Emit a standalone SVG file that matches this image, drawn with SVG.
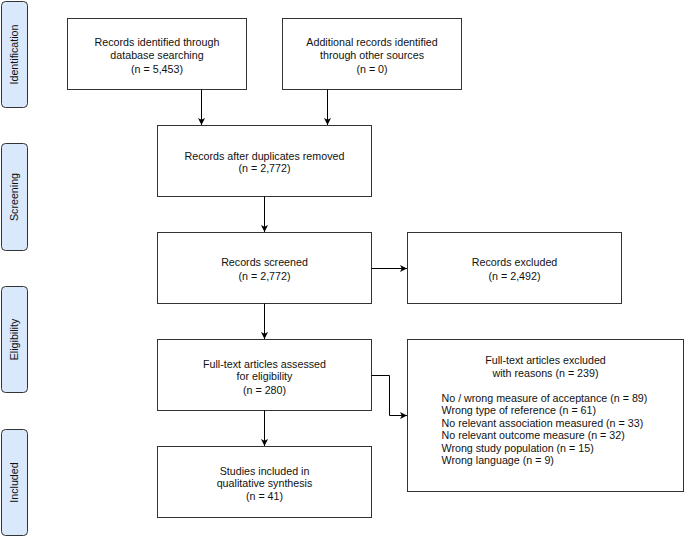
<svg xmlns="http://www.w3.org/2000/svg" width="685" height="537" viewBox="0 0 685 537">
<defs>
<marker id="ah" markerWidth="8" markerHeight="8" refX="7" refY="4" orient="auto" markerUnits="userSpaceOnUse">
<path d="M0,0.5 L7,4 L0,7.5 L1.8,4 Z" fill="#000"/>
</marker>
<style>
.box{fill:#fff;stroke:#333;stroke-width:1}
.side{fill:#dae8fc;stroke:#333;stroke-width:1}
text{font-family:"Liberation Sans",Arial,sans-serif;font-size:10.7px;fill:#111}
.c{text-anchor:middle}
.con{fill:none;stroke:#000;stroke-width:1;marker-end:url(#ah)}
</style>
</defs>
<g id="side-identification"><rect class="side" x="1.5" y="1.5" width="26" height="106" rx="4"/><text class="c" transform="translate(18,54.5) rotate(-90)">Identification</text></g>
<g id="side-screening"><rect class="side" x="1.5" y="143.5" width="26" height="107" rx="4"/><text class="c" transform="translate(18,197) rotate(-90)">Screening</text></g>
<g id="side-eligibility"><rect class="side" x="1.5" y="286.5" width="26" height="106" rx="4"/><text class="c" transform="translate(18,339.5) rotate(-90)">Eligibility</text></g>
<g id="side-included"><rect class="side" x="1.5" y="429.5" width="26" height="106" rx="4"/><text class="c" transform="translate(18,482.5) rotate(-90)">Included</text></g>

<g id="db"><rect class="box" x="67.5" y="18.5" width="179" height="71"/>
<text class="c" x="157" y="46">Records identified through</text>
<text class="c" x="157" y="58.5">database searching</text>
<text class="c" x="157" y="73">(n = 5,453)</text></g>

<g id="other"><rect class="box" x="282.5" y="18.5" width="179" height="71"/>
<text class="c" x="372" y="46">Additional records identified</text>
<text class="c" x="372" y="58.5">through other sources</text>
<text class="c" x="372" y="73">(n = 0)</text></g>

<g id="dup"><rect class="box" x="157.5" y="125.5" width="214" height="71"/>
<text class="c" x="264.5" y="159.5">Records after duplicates removed</text>
<text class="c" x="264.5" y="172">(n = 2,772)</text></g>

<g id="screened"><rect class="box" x="157.5" y="232.5" width="214" height="71"/>
<text class="c" x="264.5" y="266">Records screened</text>
<text class="c" x="264.5" y="280">(n = 2,772)</text></g>

<g id="excluded"><rect class="box" x="407.5" y="232.5" width="214" height="71"/>
<text class="c" x="514.5" y="266">Records excluded</text>
<text class="c" x="514.5" y="280">(n = 2,492)</text></g>

<g id="fulltext"><rect class="box" x="157.5" y="339.5" width="214" height="71"/>
<text class="c" x="264.5" y="367.5">Full-text articles assessed</text>
<text class="c" x="264.5" y="380">for eligibility</text>
<text class="c" x="264.5" y="394">(n = 280)</text></g>

<g id="included"><rect class="box" x="157.5" y="446.5" width="214" height="71"/>
<text class="c" x="264.5" y="474.5">Studies included in</text>
<text class="c" x="264.5" y="487">qualitative synthesis</text>
<text class="c" x="264.5" y="499.5">(n = 41)</text></g>

<g id="ftexcluded"><rect class="box" x="407.5" y="339.5" width="276" height="152"/>
<text class="c" x="545.5" y="364">Full-text articles excluded</text>
<text class="c" x="545.5" y="377">with reasons (n = 239)</text>
<text x="441.5" y="401.5">No / wrong measure of acceptance (n = 89)</text>
<text x="441.5" y="414">Wrong type of reference (n = 61)</text>
<text x="441.5" y="426.5">No relevant association measured (n = 33)</text>
<text x="441.5" y="439">No relevant outcome measure (n = 32)</text>
<text x="441.5" y="451.5">Wrong study population (n = 15)</text>
<text x="441.5" y="463.5">Wrong language (n = 9)</text></g>

<g id="connectors">
<path class="con" d="M201.5,89.5 V125"/>
<path class="con" d="M327.5,89.5 V125"/>
<path class="con" d="M264.5,196.5 V232"/>
<path class="con" d="M371.5,268.5 H407"/>
<path class="con" d="M264.5,303.5 V339"/>
<path class="con" d="M264.5,410.5 V446"/>
<path class="con" d="M371.5,375.5 H389.5 V415.5 H407"/>
</g>
</svg>
